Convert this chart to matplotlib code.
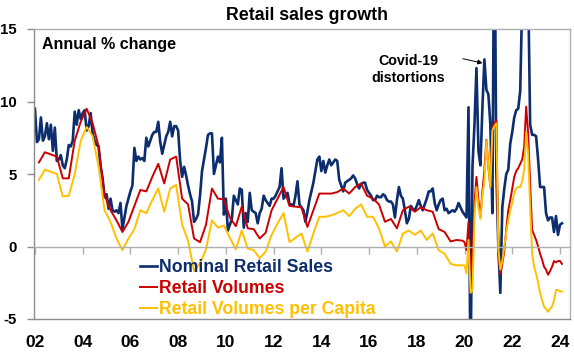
"""
Retail sales growth chart: nominal sales vs volumes vs volumes per capita.
Annual % change, 2002-2024.
"""

import numpy as np
import matplotlib
matplotlib.use("Agg")
import matplotlib.pyplot as plt

# ---------------------------------------------------------------------------
# Data (annual % change)
# ---------------------------------------------------------------------------

# monthly, Jan 2002 -> Feb 2024
nominal_sales = [
    9.5, 7.2, 7.4, 8.9, 7.3, 7.6, 8.5, 7.4, 8.4, 6.6, 8.2, 5.9,      # 2002
    6.0, 6.3, 5.6, 5.4, 6.0, 7.0, 6.9, 7.3, 9.3, 8.4, 9.4, 8.8,      # 2003
    9.2, 9.4, 8.0, 8.3, 9.2, 7.8, 7.3, 7.0, 6.9, 5.5, 4.7, 3.4,      # 2004
    3.6, 2.6, 3.3, 2.5, 2.4, 2.5, 2.3, 3.0, 1.2, 2.0, 2.8, 3.3,      # 2005
    3.8, 4.2, 6.8, 5.9, 6.2, 6.0, 6.1, 5.9, 7.5, 6.9, 7.3, 7.7,      # 2006
    7.9, 7.9, 8.6, 7.2, 6.4, 7.0, 7.6, 7.9, 8.6, 7.6, 8.3, 8.3,      # 2007
    8.0, 5.9, 4.8, 5.5, 4.9, 4.2, 3.6, 3.1, 1.7, 1.9, 2.2, 3.5,      # 2008
    5.2, 6.0, 6.8, 7.7, 7.8, 7.8, 5.0, 5.6, 6.2, 5.8, 7.5, 2.2,      # 2009
    3.3, 1.1, 1.5, 1.9, 3.5, 3.2, 2.9, 4.0, 3.9, 1.3, 2.3, 1.7,      # 2010
    3.7, 2.5, 2.4, 2.3, 1.6, 2.3, 2.6, 3.5, 3.2, 3.0, 2.8, 3.3,      # 2011
    3.3, 3.5, 3.8, 4.1, 5.4, 3.3, 3.5, 3.7, 2.9, 2.9, 2.8, 3.5,      # 2012
    4.5, 2.9, 2.7, 2.5, 1.7, 2.4, 3.2, 3.8, 4.4, 5.2, 6.0, 6.2,      # 2013
    5.2, 5.9, 5.1, 5.6, 6.0, 5.6, 5.8, 6.0, 5.9, 4.6, 4.2, 3.8,      # 2014
    4.4, 4.5, 4.6, 4.7, 4.9, 4.7, 4.3, 4.0, 4.3, 4.4, 4.4, 3.9,      # 2015
    3.7, 3.5, 3.2, 3.2, 3.5, 3.4, 3.4, 3.6, 3.5, 3.2, 3.1, 3.1,      # 2016
    2.9, 2.0, 3.2, 4.1, 3.5, 3.3, 2.5, 1.6, 1.9, 2.8, 2.6, 2.5,      # 2017
    2.8, 3.2, 2.8, 2.5, 2.9, 3.3, 3.8, 3.8, 4.0, 3.0, 2.5, 2.9,      # 2018
    3.2, 3.3, 2.5, 2.6, 2.3, 2.4, 2.5, 2.4, 2.6, 3.0, 2.7, 2.4,      # 2019
    2.2, 2.0, 9.6, -9.2, 5.5, 8.4, 12.3, 6.6, 5.6, 9.6, 12.9, 10.8,  # 2020
    10.5, 8.4, 2.3, 25.0, 5.2, 0.0, -3.2, 2.7, 4.0, 5.0, 5.3, 7.1,   # 2021
    7.9, 8.9, 9.4, 9.5, 10.7, 17.0, 18.0, 24.0, 18.0, 8.4, 7.7, 7.7, # 2022
    7.6, 6.0, 4.1, 4.1, 4.1, 2.3, 1.8, 2.0, 2.0, 1.0, 2.1, 0.8,      # 2023
    1.5, 1.6,                                                         # 2024
]

# quarterly (Mar, Jun, Sep, Dec), 2002 -> 2019
volumes_q = [
    5.8, 6.5, 6.35, 6.2,   4.7, 4.7, 7.3, 8.6,    9.5, 8.5, 6.9, 3.55,
    2.5, 1.8, 1.0, 1.7,    2.8, 3.9, 3.8, 4.8,    5.7, 4.35, 6.0, 6.2,
    3.3, 2.9, 0.55, 0.3,   1.5, 4.0, 3.3, 3.25,   2.0, 1.4, 2.75, 1.25,
    1.2, 0.55, 0.95, 2.5,  3.3, 4.1, 2.8, 2.75,   2.7, 1.35, 2.5, 3.65,
    3.65, 3.65, 3.75, 4.0, 3.65, 4.1, 4.35, 3.5,  3.3, 2.9, 1.7, 1.9,
    1.25, 2.5, 2.75, 2.4,  2.7, 2.5, 2.4, 1.2,    1.0, 0.35, 0.45, 0.4,
]
per_capita_q = [
    4.6, 5.3, 5.15, 5.0,   3.45, 3.5, 5.0, 7.3,   8.25, 7.6, 5.5, 2.5,
    1.7, 0.55, -0.25, 0.55, 1.2, 2.5, 2.3, 3.2,   4.0, 2.4, 4.0, 4.25,
    1.5, 0.4, -1.7, -1.15, -0.2, 1.8, 1.3, 1.45,  0.6, -0.2, 1.1, -0.15,
    -0.25, -0.8, -0.35, 0.8, 1.6, 2.3, 0.3, 0.6,  0.9, -0.35, 0.9, 2.05,
    2.05, 2.15, 2.3, 2.5,  2.1, 2.6, 2.9, 2.05,   2.05, 1.25, 0.0, 0.35,
    -0.35, 0.9, 1.1, 0.8,  1.1, 0.45, 0.9, -0.25, -0.5, -1.2, -1.3, -1.3,
]

# monthly, Jan 2020 -> Feb 2024
volumes_m = [
    0.3, -0.25, 1.7, -1.8, -1.0, 3.0, 4.8, 3.2, 2.05, 3.8, 5.3, 7.35,
    5.5, 4.1, 8.25, 8.5, 8.7, -0.5, -1.9, -1.2, -0.3, 1.2, 2.5, 3.2,
    4.0, 4.8, 5.2, 5.4, 5.7, 6.0, 6.9, 9.65, 7.8, 4.35, 1.15, 0.8,
    0.45, 0.0, -0.5, -0.9, -1.4, -1.6, -1.95, -1.7, -1.4, -1.0, -1.1, -1.0,
    -1.0, -1.2,
]
per_capita_m = [
    -1.3, -1.85, 0.45, -3.2, -3.0, 2.0, 4.1, 2.7, 1.9, 3.5, 4.6, 7.3,
    5.5, 4.1, 8.0, 8.3, 8.5, -0.1, -1.6, -1.0, 0.0, 1.0, 1.8, 2.5,
    3.0, 3.7, 4.0, 4.1, 4.1, 4.5, 5.3, 7.9, 6.4, 2.7, -0.5, -1.4,
    -1.9, -2.5, -3.2, -3.7, -4.15, -4.3, -4.5, -4.3, -4.15, -3.7, -3.0, -3.0,
    -3.1, -3.1,
]

tick_years = list(range(2002, 2025, 2))
tick_labels = [f"{y % 100:02d}" for y in tick_years]

# ---------------------------------------------------------------------------
# Styling
# ---------------------------------------------------------------------------

NAVY = "#0c2d6e"
RED = "#cc0000"
GOLD = "#ffc000"
FRAME = "#8c8c8c"
LIGHT = "#b0b0b0"

plt.rcParams.update({
    "font.family": ["Liberation Sans", "DejaVu Sans"],
    "font.weight": "bold",
})

# time axes (decimal years, monthly points at start of month)
t_nom = 2002 + np.arange(len(nominal_sales)) / 12
t_q = 2002 + (2 + 3 * np.arange(len(volumes_q))) / 12
t_m = 2020 + np.arange(len(volumes_m)) / 12
t_vol = np.concatenate([t_q, t_m])
vol = np.concatenate([volumes_q, volumes_m])
pc = np.concatenate([per_capita_q, per_capita_m])

W, H = 574, 353
fig = plt.figure(figsize=(W / 100, H / 100), dpi=100)
ax = fig.add_axes([34 / W, 1 - 319 / H, (570 - 34) / W, (319 - 29) / H])

ax.plot(t_nom, nominal_sales, color=NAVY, lw=1.9, label="Nominal Retail Sales")
ax.plot(t_vol, vol, color=RED, lw=1.4, label="Retail Volumes")
ax.plot(t_vol, pc, color=GOLD, lw=1.4, label="Retail Volumes per Capita")

ax.set_xlim(2001.96, 2024.42)
ax.set_ylim(-5, 15)

# frame
for side in ("top", "right"):
    ax.spines[side].set_color(LIGHT)
    ax.spines[side].set_linewidth(1.0)
ax.spines["left"].set_color(FRAME)
ax.spines["left"].set_linewidth(1.0)
ax.spines["bottom"].set_position(("data", 0))
ax.spines["bottom"].set_color(LIGHT)
ax.spines["bottom"].set_linewidth(1.0)
ax.axhline(-5, color=FRAME, lw=1.0, clip_on=False, zorder=3)

ax.set_yticks([-5, 0, 5, 10, 15])
ax.set_yticklabels(["-5", "0", "5", "10", "15"])
ax.tick_params(axis="y", direction="out", length=5, width=1, color=FRAME,
               pad=7.5, labelsize=10.8)
ax.set_xticks(tick_years)
ax.set_xticklabels(tick_labels)
ax.tick_params(axis="x", direction="out", length=5, width=1, color=LIGHT,
               pad=59, labelsize=12.5)

# texts
fig.text(0.534, 1 - 20 / H, "Retail sales growth", ha="center",
         va="baseline", fontsize=12.8, fontweight="bold")
ax.text(0.0149, 0.930, "Annual % change", transform=ax.transAxes,
        ha="left", va="baseline", fontsize=11.5, fontweight="bold")
ax.text(2017.63, 12.2, "Covid-19\ndistortions", ha="center", va="center",
        fontsize=10.3, fontweight="bold", linespacing=1.25)
ax.annotate("", xy=(2020.76, 12.65), xytext=(2019.93, 12.95),
            arrowprops=dict(arrowstyle="-|>", color="black", lw=0.7,
                            mutation_scale=7, shrinkA=0, shrinkB=0))

leg = ax.legend(loc="upper left", bbox_to_anchor=(140 / W, 1 - 259 / H),
                bbox_transform=fig.transFigure, frameon=False,
                fontsize=12.7, handlelength=0.95, handletextpad=0.1,
                labelspacing=0.22, borderpad=0, borderaxespad=0,
                labelcolor="linecolor")
for text in leg.get_texts():
    text.set_fontweight("bold")

fig.savefig("out.png", dpi=100)
